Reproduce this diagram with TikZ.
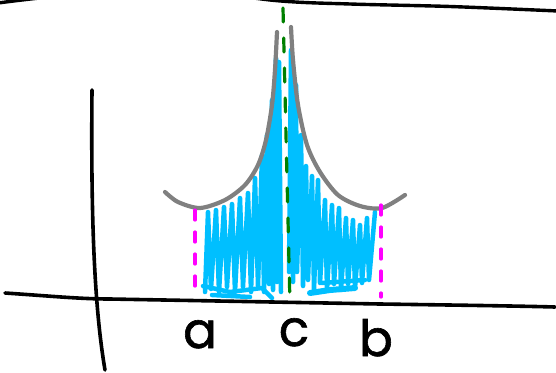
\documentclass[tikz,border=0pt]{standalone}
\usepackage{fontspec}
\newfontfamily\handfont[FakeBold=1.2]{Poppins}
\definecolor{skyb}{RGB}{0,191,255}
\definecolor{curvegray}{RGB}{128,128,128}
\definecolor{dgreen}{RGB}{0,128,0}
\definecolor{mag}{RGB}{255,0,255}
\begin{document}
\begin{tikzpicture}[x=1pt,y=-1pt,
  axisline/.style={line width=3.6pt,black,line cap=round},
  scrib/.style={line width=4.5pt,skyb,line cap=round,line join=round},
  bound/.style={line width=4.2pt,curvegray,line cap=round},
  midline/.style={line width=3.2pt,dgreen,line cap=round,dash pattern=on 14pt off 16pt},
  edgeline/.style={line width=3.2pt,mag,line cap=round,dash pattern=on 10pt off 12pt},
  lab/.style={font=\handfont\fontsize{50}{50}\selectfont,anchor=base,inner sep=0pt}]
\useasboundingbox (0,0) rectangle (556,372);
\begin{scope}
\clip (0,0) rectangle (556,372);
% top line
\draw[line width=3.4pt,black] plot[smooth] coordinates {(-2,3) (35,-1.5) (150,-14) (275,0.5) (350,4) (450,6.5) (558,11)};
\end{scope}
% blue scribble, left half
\draw[scrib] (205,292) -- (208,212) -- (211,289) -- (216,210) -- (219,292)
 -- (224,207) -- (227,287) -- (232,204) -- (235,292) -- (240,198) -- (243,287)
 -- (248,193) -- (251,292) -- (255,178) -- (258,286) -- (262,155) -- (264,292)
 -- (267,135) -- (269,284) -- (272,100) -- (273,290) -- (276,58) -- (277,282)
 -- (279,62) -- (281,292);
\draw[scrib] (203,286) -- (230,292) -- (262,288) -- (272,298);
\draw[scrib] (212,295) -- (250,297);
% blue scribble, right half
\draw[scrib] (289,272) -- (291,50) -- (293,282) -- (296,85) -- (297,272)
 -- (301,135) -- (303,286) -- (306,166) -- (308,280) -- (312,176) -- (314,290)
 -- (318,180) -- (320,283) -- (325,200) -- (327,290) -- (332,205) -- (334,284)
 -- (339,208) -- (341,290) -- (346,218) -- (348,284) -- (353,220) -- (355,288)
 -- (360,225) -- (362,283) -- (367,218) -- (369,280) -- (375,212);
\draw[scrib,line width=6pt] (310,293) -- (330,290) -- (355,288);
\draw[scrib] (322,283) -- (365,280);
% gray boundary curve
\draw[bound] plot[smooth] coordinates {(165,192) (178,202) (200,208) (225,200) (245,185) (258,165) (266,140) (272,105) (275,70) (277,32)};
\draw[bound] plot[smooth] coordinates {(291,27) (293,60) (298,105) (307,145) (320,172) (338,195) (360,206) (382,208) (405,195)};
% green mid line
\draw[midline] (283,8) -- (290,305);
% magenta edge lines
\draw[edgeline] (195,210) -- (195,297);
\draw[edgeline] (381,205) -- (381,297);
% axes
\coordinate (vt) at (92,90);
\coordinate (vb) at (105,370);
\coordinate (hl) at (5,293);
\coordinate (hr) at (555,307);
\draw[axisline] (vt) .. controls (91,200) and (93,300) .. (vb);
\draw[axisline] (hl) .. controls (50,296) and (80,299) .. (110,299) -- (380,304) .. controls (450,305) and (520,306) .. (hr);
% labels
\node[lab] (la) at (200,348) {a};
\node[lab] (lc) at (294,346) {c};
\node[lab] (lb) at (376,356) {b};
\end{tikzpicture}
\end{document}
